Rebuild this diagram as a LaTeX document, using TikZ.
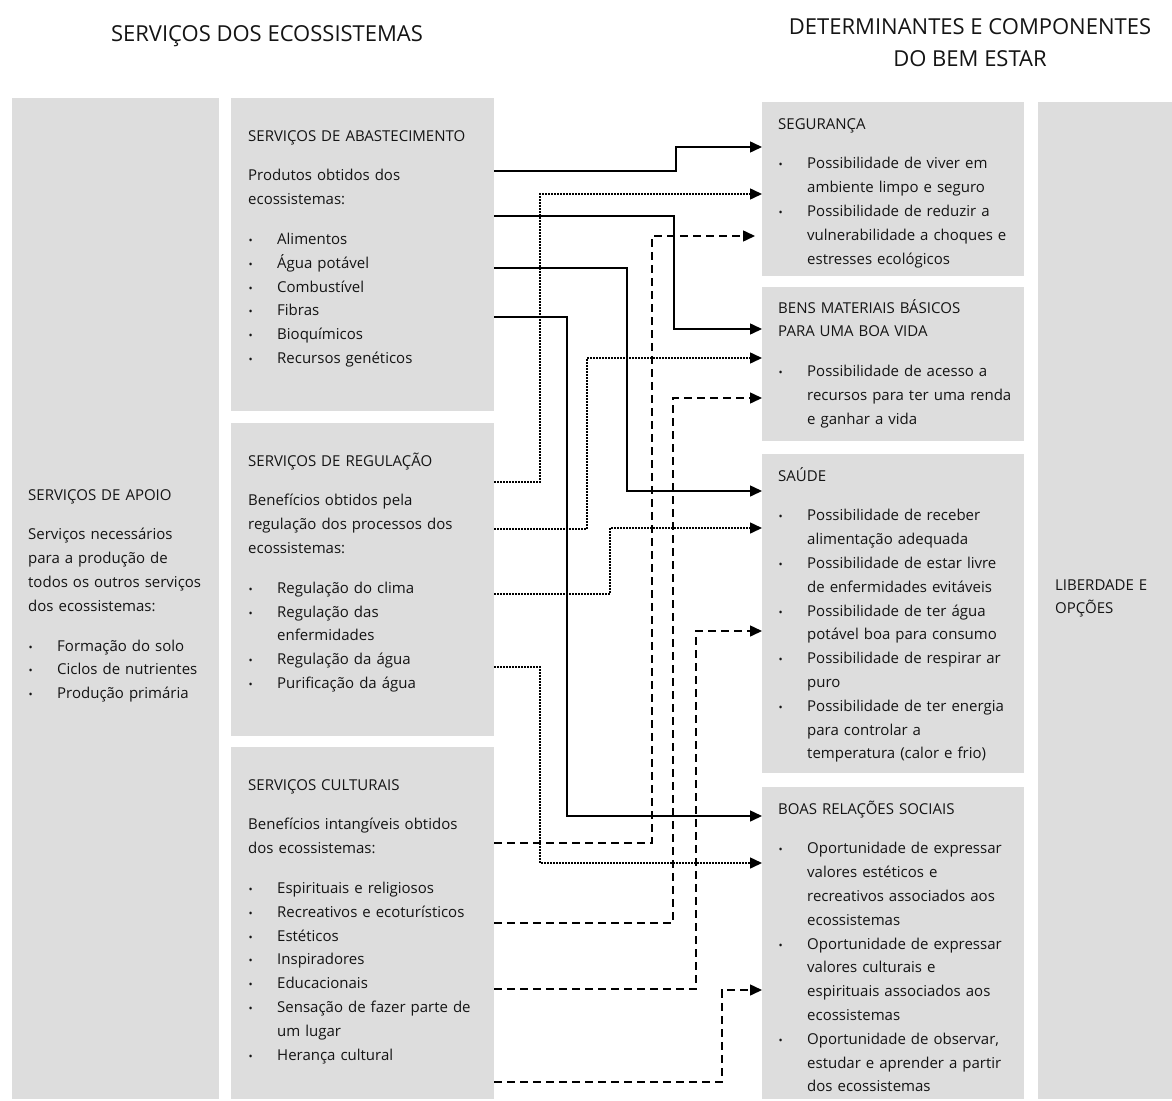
\documentclass[tikz,border=0pt]{standalone}
\usepackage{fontspec}
\setmainfont{Open Sans}
\usepackage{xcolor}
\usetikzlibrary{arrows.meta}
\definecolor{boxgray}{RGB}{221,221,221}
\definecolor{ink}{RGB}{20,20,20}
\newcommand{\bitem}[1]{\makebox[29pt][l]{\hspace{0.5pt}\fontsize{11}{11}\selectfont\textbullet}#1}
\newcommand{\bcont}[1]{\hspace*{29pt}#1}

\begin{document}
\begin{tikzpicture}[x=1pt,y=-1pt,
  box/.style={fill=boxgray,draw=none,anchor=north west,inner sep=0pt},
  txt/.style={anchor=base west,inner sep=0pt,text width=250pt,align=left,text=ink,
    font=\fontsize{15}{23.8}\selectfont},
  head/.style={anchor=base,inner sep=0pt,text=ink,font=\fontsize{22}{26}\selectfont},
  con/.style={line width=1.5pt,-{Triangle[length=12pt,width=11pt]}},
  dotcon/.style={con,dash pattern=on 1.5pt off 1.5pt},
  dashcon/.style={con,dash pattern=on 8pt off 5pt}]
  \useasboundingbox (0,0) rectangle (1172,1100);
  % headings
  \node[head] (hleft) at (267,41.7) {SERVIÇOS DOS ECOSSISTEMAS};
  \node[head] (hright1) at (970,34) {DETERMINANTES E COMPONENTES};
  \node[head] (hright2) at (970,66.7) {DO BEM ESTAR};
  % boxes
  \node[box,minimum width=207pt,minimum height=1001pt] (apoio) at (12,98) {};
  \node[box,minimum width=263pt,minimum height=313pt] (abast) at (231,98) {};
  \node[box,minimum width=263pt,minimum height=313pt] (reg) at (231,423) {};
  \node[box,minimum width=263pt,minimum height=352pt] (cult) at (231,747) {};
  \node[box,minimum width=262pt,minimum height=174pt] (seg) at (762,102) {};
  \node[box,minimum width=262pt,minimum height=154pt] (bens) at (762,287) {};
  \node[box,minimum width=262pt,minimum height=319pt] (saude) at (762,454) {};
  \node[box,minimum width=262pt,minimum height=312pt] (boas) at (762,787) {};
  \node[box,minimum width=134pt,minimum height=997pt] (lib) at (1038,102) {};
  % texts
  \node[txt] (apoio-t) at (28,500) {SERVIÇOS DE APOIO\\[16pt]
    Serviços necessários\\para a produção de\\todos os outros serviços\\dos ecossistemas:\\[16pt]
    \bitem{Formação do solo}\\\bitem{Ciclos de nutrientes}\\\bitem{Produção primária}};
  \node[txt] (abast-t) at (248,141) {SERVIÇOS DE ABASTECIMENTO\\[16pt]
    Produtos obtidos dos\\ecossistemas:\\[16pt]
    \bitem{Alimentos}\\\bitem{Água potável}\\\bitem{Combustível}\\\bitem{Fibras}\\
    \bitem{Bioquímicos}\\\bitem{Recursos genéticos}};
  \node[txt] (reg-t) at (248,466) {SERVIÇOS DE REGULAÇÃO\\[16pt]
    Benefícios obtidos pela\\regulação dos processos dos\\ecossistemas:\\[16pt]
    \bitem{Regulação do clima}\\\bitem{Regulação das}\\\bcont{enfermidades}\\
    \bitem{Regulação da água}\\\bitem{Purificação da água}};
  \node[txt] (cult-t) at (248,790) {SERVIÇOS CULTURAIS\\[16pt]
    Benefícios intangíveis obtidos\\dos ecossistemas:\\[16pt]
    \bitem{Espirituais e religiosos}\\\bitem{Recreativos e ecoturísticos}\\\bitem{Estéticos}\\
    \bitem{Inspiradores}\\\bitem{Educacionais}\\\bitem{Sensação de fazer parte de}\\
    \bcont{um lugar}\\\bitem{Herança cultural}};
  \node[txt] (seg-t) at (778,129) {SEGURANÇA\\[16pt]
    \bitem{Possibilidade de viver em}\\\bcont{ambiente limpo e seguro}\\
    \bitem{Possibilidade de reduzir a}\\\bcont{vulnerabilidade a choques e}\\
    \bcont{estresses ecológicos}};
  \node[txt] (bens-t) at (778,313) {BENS MATERIAIS BÁSICOS\\PARA UMA BOA VIDA\\[16pt]
    \bitem{Possibilidade de acesso a}\\\bcont{recursos para ter uma renda}\\
    \bcont{e ganhar a vida}};
  \node[txt] (saude-t) at (778,481) {SAÚDE\\[16pt]
    \bitem{Possibilidade de receber}\\\bcont{alimentação adequada}\\
    \bitem{Possibilidade de estar livre}\\\bcont{de enfermidades evitáveis}\\
    \bitem{Possibilidade de ter água}\\\bcont{potável boa para consumo}\\
    \bitem{Possibilidade de respirar ar}\\\bcont{puro}\\
    \bitem{Possibilidade de ter energia}\\\bcont{para controlar a}\\
    \bcont{temperatura (calor e frio)}};
  \node[txt] (boas-t) at (778,814) {BOAS RELAÇÕES SOCIAIS\\[16pt]
    \bitem{Oportunidade de expressar}\\\bcont{valores estéticos e}\\
    \bcont{recreativos associados aos}\\\bcont{ecossistemas}\\
    \bitem{Oportunidade de expressar}\\\bcont{valores culturais e}\\
    \bcont{espirituais associados aos}\\\bcont{ecossistemas}\\
    \bitem{Oportunidade de observar,}\\\bcont{estudar e aprender a partir}\\
    \bcont{dos ecossistemas}};
  \node[txt] (lib-t) at (1055,590) {LIBERDADE E\\OPÇÕES};
  % abastecimento
  \draw[con] (abast.east |- 0,171) -| (676,147) -- (seg.west |- 0,147);
  \draw[con] (abast.east |- 0,216) -| (674,329) -- (bens.west |- 0,329);
  \draw[con] (abast.east |- 0,268) -| (627,491) -- (saude.west |- 0,491);
  \draw[con] (abast.east |- 0,317) -| (567,816) -- (boas.west |- 0,816);
  % regulacao
  \draw[dotcon] (reg.east |- 0,482) -| (540,194) -- (seg.west |- 0,194);
  \draw[dotcon] (reg.east |- 0,529) -| (587,358) -- (bens.west |- 0,358);
  \draw[dotcon] (reg.east |- 0,594) -| (610,528) -- (saude.west |- 0,528);
  \draw[dotcon] (reg.east |- 0,667) -| (540,863) -- (boas.west |- 0,863);
  % culturais
  \draw[dashcon,shorten >=7pt] (cult.east |- 0,843) -| (652,236) -- (seg.west |- 0,236);
  \draw[dashcon] (cult.east |- 0,923) -| (673,398) -- (bens.west |- 0,398);
  \draw[dashcon] (cult.east |- 0,989) -| (696,631) -- (saude.west |- 0,631);
  \draw[dashcon] (cult.east |- 0,1082) -| (722,990) -- (boas.west |- 0,990);
\end{tikzpicture}
\end{document}
